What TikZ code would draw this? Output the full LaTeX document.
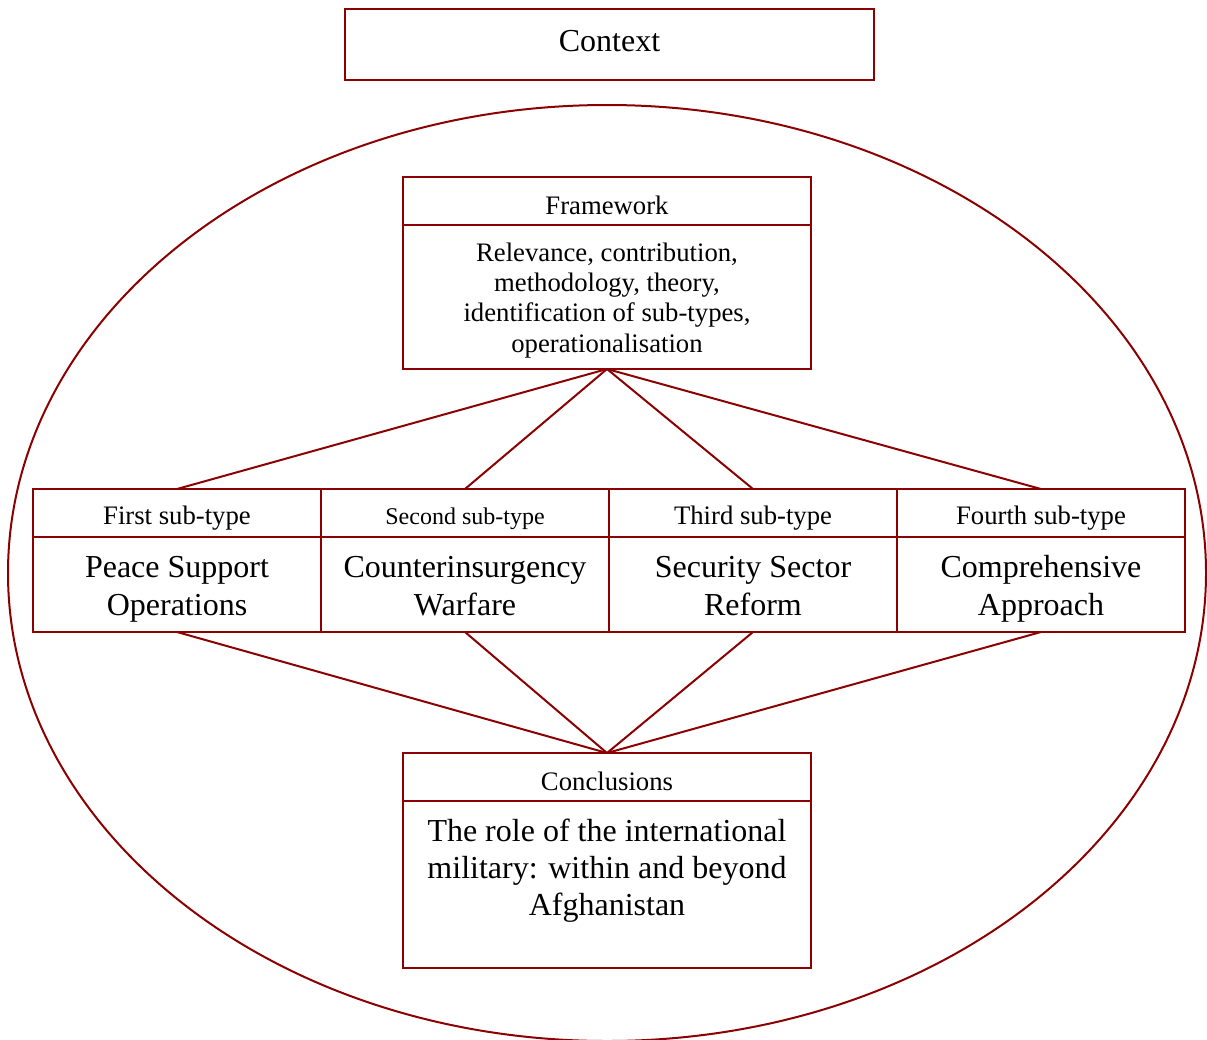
\documentclass[tikz,border=0pt]{standalone}
\usepackage{fontspec}
\setmainfont{Liberation Serif}
\definecolor{maroonline}{RGB}{139,0,0}

% Centred multi-line block whose baseline is the first line's baseline
\newcommand{\boxlines}[4]{\parbox[t]{#1}{\centering\fontsize{#2}{#3}\selectfont #4}}

\tikzset{
  cell/.style={draw=maroonline, line width=2pt, inner sep=0pt, outer sep=0pt},
  link/.style={draw=maroonline, line width=2pt},
  txt/.style={inner sep=0pt, anchor=base, text=black},
  bigtxt/.style={txt, font=\fontsize{32}{37}\selectfont},
  midtxt/.style={txt, font=\fontsize{26.7}{30}\selectfont},
  smalltxt/.style={txt, font=\fontsize{24}{28}\selectfont},
}

\begin{document}
\begin{tikzpicture}[x=1pt,y=-1pt]
\useasboundingbox (0,0) rectangle (1207,1039);

% enclosing oval
\draw[link] (607,573) ellipse [x radius=599pt, y radius=468pt];

% context box
\node[cell, minimum width=529pt, minimum height=71pt] (context) at (609.5,44.5) {};
\node[bigtxt] (contexttxt) at (609.5,51) {Context};

% framework box
\node[cell, minimum width=408pt, minimum height=48pt]  (fwhead) at (607,201) {};
\node[cell, minimum width=408pt, minimum height=144pt] (fwbody) at (607,297) {};
\node[midtxt] (fwheadtxt) at (607,214.3) {Framework};
\node[txt] (fwbodytxt) at (607,261)
  {\boxlines{400pt}{26.7}{30.4}{Relevance, contribution,\\ methodology, theory,\\ identification of sub-types,\\ operationalisation}};

% sub-type columns
\foreach \i/\cx in {1/177,2/465,3/753,4/1041}{
  \node[cell, minimum width=288pt, minimum height=48pt] (h\i) at (\cx,513) {};
  \node[cell, minimum width=288pt, minimum height=95pt] (b\i) at (\cx,584.5) {};
}
\node[midtxt]   (h1txt) at (177,524)  {First sub-type};
\node[smalltxt] (h2txt) at (465,524)  {Second sub-type};
\node[midtxt]   (h3txt) at (753,524)  {Third sub-type};
\node[midtxt]   (h4txt) at (1041,524) {Fourth sub-type};
\node[txt] (b1txt) at (177,577.5)  {\boxlines{280pt}{32}{37.5}{Peace Support\\ Operations}};
\node[txt] (b2txt) at (465,577.5)  {\boxlines{280pt}{32}{37.5}{Counterinsurgency\\ Warfare}};
\node[txt] (b3txt) at (753,577.5)  {\boxlines{280pt}{32}{37.5}{Security Sector\\ Reform}};
\node[txt] (b4txt) at (1041,577.5) {\boxlines{280pt}{32}{37.5}{Comprehensive\\ Approach}};

% conclusions box
\node[cell, minimum width=408pt, minimum height=48pt]  (chead) at (607,777) {};
\node[cell, minimum width=408pt, minimum height=167pt] (cbody) at (607,884.5) {};
\node[midtxt] (cheadtxt) at (607,790) {Conclusions};
\node[txt] (cbodytxt) at (607,841)
  {\boxlines{400pt}{32}{37.2}{The role of the international\\ military: within and beyond\\ Afghanistan}};

% connectors
\foreach \i in {1,...,4}{
  \draw[link] (fwbody.south) -- (h\i.north);
  \draw[link] (b\i.south) -- (chead.north);
}
\end{tikzpicture}
\end{document}
